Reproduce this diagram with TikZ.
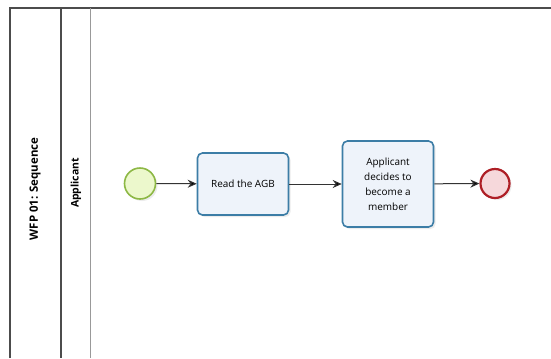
\documentclass[tikz,border=0pt]{standalone}
\usepackage{fontspec}
\setmainfont{Open Sans}
\usetikzlibrary{arrows.meta,shadows}
\definecolor{taskfill}{HTML}{EEF3FA}
\definecolor{taskline}{HTML}{3C7DA6}
\definecolor{startfill}{HTML}{ECF8CC}
\definecolor{startline}{HTML}{8DB845}
\definecolor{endfill}{HTML}{F6D8DB}
\definecolor{endline}{HTML}{AE1F26}
\tikzset{
  every node/.style={font=\fontsize{10}{15}\selectfont},
  task/.style={draw=taskline, fill=taskfill, line width=1.6bp, rounded corners=5bp,
    minimum width=91bp, minimum height=62bp, align=center, inner sep=2bp,
    drop shadow={shadow xshift=2bp, shadow yshift=-2bp, opacity=0.15}},
  startev/.style={circle, draw=startline, fill=startfill, line width=1.6bp, minimum size=31bp, inner sep=0pt,
    drop shadow={shadow xshift=2bp, shadow yshift=-2bp, opacity=0.15}},
  endev/.style={circle, draw=endline, fill=endfill, line width=2.2bp, minimum size=29bp, inner sep=0pt,
    drop shadow={shadow xshift=2bp, shadow yshift=-2bp, opacity=0.15}},
  flow/.style={draw=black!80, line width=1bp, -{Stealth[length=9bp,width=8bp,fill=black]}},
  poolline/.style={draw=black!70, line width=1.1bp},
  laneline/.style={draw=black!40, line width=1.1bp},
  hdr/.style={rotate=90, font=\bfseries\fontsize{11.5}{13}\selectfont},
  lhdr/.style={rotate=90, font=\bfseries\fontsize{10.5}{12}\selectfont}
}
\begin{document}
\begin{tikzpicture}[x=1bp,y=-1bp]
\useasboundingbox (0,0) rectangle (551,358);
\fill[white] (0,0) rectangle (551,358);
\coordinate (pt) at (10,8);
\coordinate (pr) at (551,8);
\coordinate (pb) at (10,358);
\coordinate (lt) at (61,8);
\coordinate (lb) at (61,358);
\coordinate (mt) at (90.5,8);
\coordinate (mb) at (90.5,358);
\draw[poolline] (pb) -- (pt) -- (pr);
\draw[poolline] (lt) -- (lb);
\draw[laneline] (mt) -- (mb);
\node[hdr] (pool) at (35,189) {WFP 01: Sequence};
\node[lhdr] (lane) at (76,183) {Applicant};
\node[startev] (s) at (140,183.5) {};
\node[task] (t1) at (243,184) {Read the AGB};
\node[task, minimum height=86bp] (t2) at (388,184) {Applicant\\decides to\\become a\\member};
\node[endev] (e) at (495,183.5) {};
\draw[flow] (s) -- (t1);
\draw[flow] (t1) -- (t2);
\draw[flow] (t2) -- (e);
\end{tikzpicture}
\end{document}
